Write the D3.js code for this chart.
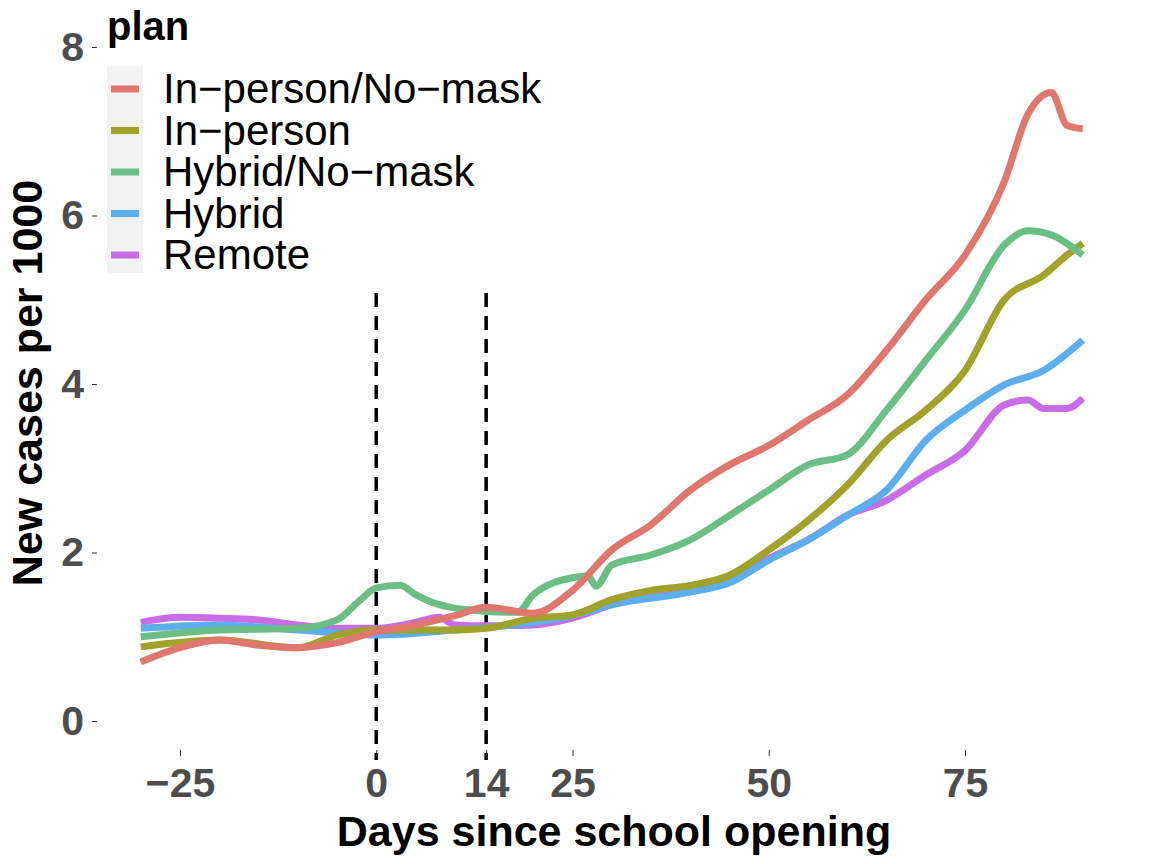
<!DOCTYPE html>
<html>
<head>
<meta charset="utf-8">
<style>
  body { margin: 0; background: #fff; }
  text { font-family: "Liberation Sans", Arial, sans-serif; }
</style>
</head>
<body>
<svg id="chart" width="1152" height="864"></svg>
<script src="https://d3js.org/d3.v7.min.js"></script>
<script>
// series
const plans = ["In\u2212person/No\u2212mask", "In\u2212person", "Hybrid/No\u2212mask", "Hybrid", "Remote"];
const colors = ["#df776e", "#a0a22a", "#6cbf84", "#5caeee", "#c96ce8"];

const redDays = [-30,-25,-20,-15,-10,-5,0,5,10,14,20,25,30,35,40,45,50,55,60,65,70,75,80,83,86,88,90];
const redVals = [0.70,0.87,0.96,0.90,0.87,0.93,1.06,1.14,1.25,1.35,1.28,1.55,2.03,2.33,2.74,3.04,3.27,3.57,3.87,4.4,5.0,5.53,6.4,7.2,7.46,7.07,7.03];

const oliveDays = [-30,-20,-10,-5,0,10,14,20,25,30,35,40,45,50,55,60,65,70,75,80,85,88,90];
const oliveVals = [0.88,0.96,0.87,1.02,1.08,1.08,1.10,1.22,1.26,1.44,1.55,1.61,1.73,2.03,2.38,2.8,3.33,3.69,4.16,5.0,5.29,5.53,5.67];

const greenDays = [-30,-20,-10,-5,-2,0,3,5,8,14,18,20,25,27,28,30,35,40,45,50,55,60,65,70,75,80,83,86,90];
const greenVals = [1.0,1.08,1.1,1.2,1.44,1.58,1.61,1.5,1.38,1.3,1.29,1.5,1.7,1.72,1.6,1.85,1.97,2.15,2.44,2.74,3.04,3.16,3.69,4.28,4.88,5.65,5.82,5.77,5.53];

const blueDays = [-30,-20,-10,0,10,20,25,30,40,45,50,55,60,65,70,75,80,85,90];
const blueVals = [1.1,1.14,1.08,1.02,1.08,1.17,1.25,1.38,1.53,1.64,1.91,2.15,2.44,2.74,3.33,3.69,3.99,4.16,4.52];

const purpleDays = [-30,-25,-20,-15,-10,-5,0,5,8,10,14,20,25,30,40,45,50,55,60,65,70,75,80,83,85,88,90];
const purpleVals = [1.17,1.23,1.22,1.2,1.14,1.1,1.1,1.17,1.23,1.14,1.13,1.14,1.22,1.38,1.55,1.67,1.93,2.15,2.44,2.62,2.92,3.21,3.75,3.81,3.71,3.71,3.83];

const seriesDays = [redDays, oliveDays, greenDays, blueDays, purpleDays];
const seriesVals = [redVals, oliveVals, greenVals, blueVals, purpleVals];
const xTicks = [-25, 0, 14, 25, 50, 75];
const yTicks = [0, 2, 4, 6, 8];
const openingLines = [0, 14];

const svg = d3.select("#chart");
const x = d3.scaleLinear().domain([-25, 75]).range([180, 965]);
const y = d3.scaleLinear().domain([0, 8]).range([721, 47]);

// dashed reference lines
svg.selectAll("line.vref").data(openingLines).enter().append("line")
  .attr("x1", d => x(d)).attr("x2", d => x(d))
  .attr("y1", y(5.08)).attr("y2", 760)
  .attr("stroke", "#000").attr("stroke-width", 3.5)
  .attr("stroke-dasharray", "14,9");

const line = d3.line().x(d => x(d[0])).y(d => y(d[1])).curve(d3.curveMonotoneX);
const order = [4, 3, 1, 2, 0];
order.forEach(i => {
  svg.append("path")
    .datum(d3.zip(seriesDays[i], seriesVals[i]))
    .attr("d", line)
    .attr("fill", "none")
    .attr("stroke", colors[i])
    .attr("stroke-width", 7)
    .attr("stroke-linejoin", "round");
});

// axes
const xAxis = svg.append("g").attr("transform", "translate(0,750)")
  .call(d3.axisBottom(x).tickValues(xTicks).tickSize(6).tickPadding(6).tickFormat(d => d < 0 ? "\u2212" + (-d) : d));
const yAxis = svg.append("g").attr("transform", "translate(97,0)")
  .call(d3.axisLeft(y).tickValues(yTicks).tickSize(5).tickPadding(8));
[xAxis, yAxis].forEach(a => {
  a.select(".domain").remove();
  a.selectAll(".tick line").attr("stroke", "#333");
  a.selectAll(".tick text").attr("fill", "#4d4d4d")
    .style("font-size", "41px").style("font-weight", "bold");
});
xAxis.selectAll(".tick text").attr("dy", "0.85em");

svg.append("text").attr("x", 614).attr("y", 846).attr("text-anchor", "middle")
  .style("font-size", "43px").style("font-weight", "bold").text("Days since school opening");
svg.append("text").attr("transform", "translate(42,383) rotate(-90)").attr("text-anchor", "middle")
  .style("font-size", "43px").style("font-weight", "bold").text("New cases per 1000");

// legend
const lg = svg.append("g");
lg.append("text").attr("x", 107).attr("y", 40).style("font-size", "40px").style("font-weight", "bold").text("plan");
lg.append("rect").attr("x", 107).attr("y", 66).attr("width", 36).attr("height", 207).attr("fill", "#f2f2f2");
plans.forEach((p, i) => {
  const cy = 89 + i * 41.5;
  lg.append("line").attr("x1", 111).attr("x2", 139).attr("y1", cy).attr("y2", cy)
    .attr("stroke", colors[i]).attr("stroke-width", 7);
  lg.append("text").attr("x", 163).attr("y", cy + 14).style("font-size", "42px").text(p);
});
</script>
</body>
</html>
